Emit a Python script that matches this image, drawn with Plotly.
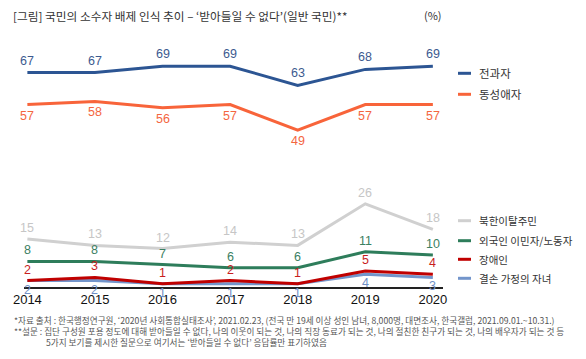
import plotly.graph_objects as go

years = [2014, 2015, 2016, 2017, 2018, 2019, 2020]
series_names = ["전과자", "동성애자", "북한이탈주민", "외국인 이민자/노동자", "장애인", "결손 가정의 자녀"]
ex_convict = [67, 67, 69, 69, 63, 68, 69]
homosexual = [57, 58, 56, 57, 49, 57, 57]
nk_defector = [15, 13, 12, 14, 13, 26, 18]
foreign_worker = [8, 8, 7, 6, 6, 11, 10]
disabled = [2, 3, 1, 2, 1, 5, 4]
broken_family = [2, 2, 1, 1, 1, 4, 3]

W, H = 586, 359
L, R, T, B = 23.6, 143, 47, 72
PW, PH = W - L - R, H - T - B

def px(x):
    return (x - L) / PW

def py(y):
    return (H - B - y) / PH

KFONT = "Noto Sans CJK KR"
NFONT = "Liberation Sans, Arial, sans-serif"

# (values, name, line colour, label colour, label shift in px)
styles = [
    (nk_defector, series_names[2], "#d0d0d0", "#c6c6c6", 11),
    (foreign_worker, series_names[3], "#2e7d5b", "#3b8062", 11),
    (broken_family, series_names[5], "#7395cb", "#6f8fc6", -9),
    (disabled, series_names[4], "#c00000", "#c81e1e", 11),
    (homosexual, series_names[1], "#f8643a", "#f4663f", -11),
    (ex_convict, series_names[0], "#2c5593", "#3d5a8f", 12),
]

fig = go.Figure()
annotations = []
for vals, name, lc, tc, shift in styles:
    fig.add_trace(go.Scatter(
        x=years, y=vals, name=name, mode="lines",
        line=dict(color=lc, width=3), cliponaxis=False, showlegend=False))
    for xv, yv in zip(years, vals):
        annotations.append(dict(x=xv, y=yv, xref="x", yref="y", text=str(yv),
                                showarrow=False, yshift=shift, xanchor="center", yanchor="middle",
                                font=dict(family=NFONT, size=12.5, color=tc)))

shapes = []
legend1 = [(series_names[0], "#2c5593", 73.3), (series_names[1], "#f8643a", 94.3)]
legend2 = [(series_names[2], "#d0d0d0", 220.7), (series_names[3], "#2e7d5b", 240.7),
           (series_names[4], "#c00000", 259.3), (series_names[5], "#7395cb", 278.3)]
for items, fs in ((legend1, 11.5), (legend2, 10.5)):
    for name, col, yy in items:
        shapes.append(dict(type="line", xref="paper", yref="paper",
                           x0=px(458), x1=px(471), y0=py(yy), y1=py(yy),
                           line=dict(color=col, width=3)))
        annotations.append(dict(xref="paper", yref="paper", x=px(477), y=py(yy),
                                text=name, showarrow=False, xanchor="left", yanchor="middle",
                                font=dict(family=KFONT, size=fs, color="#333333")))

annotations.append(dict(xref="paper", yref="paper", x=px(11), y=py(15),
                        text="[그림] 국민의 소수자 배제 인식 추이 – ‘받아들일 수 없다’(일반 국민)**",
                        showarrow=False, xanchor="left", yanchor="middle",
                        font=dict(family=KFONT, size=11.7, color="#333333")))
annotations.append(dict(xref="paper", yref="paper", x=px(444), y=py(15),
                        text="(%)", showarrow=False, xanchor="right", yanchor="middle",
                        font=dict(family=KFONT, size=11, color="#333333")))

foot = [
    (12, 320, "*자료 출처 : 한국행정연구원, ‘2020년 사회통합실태조사’, 2021.02.23, (전국 만 19세 이상 성인 남녀, 8,000명, 대면조사, 한국갤럽, 2021.09.01.~10.31.)"),
    (12, 331, "**설문 : 집단 구성원 포용 정도에 대해 받아들일 수 없다, 나의 이웃이 되는 것, 나의 직장 동료가 되는 것, 나의 절친한 친구가 되는 것, 나의 배우자가 되는 것 등"),
    (44, 342, "5가지 보기를 제시한 질문으로 여기서는 ‘받아들일 수 없다’ 응답률만 표기하였음"),
]
for xx, yy, t in foot:
    annotations.append(dict(xref="paper", yref="paper", x=px(xx), y=py(yy), text=t,
                            showarrow=False, xanchor="left", yanchor="middle",
                            font=dict(family=KFONT, size=8.65, color="#555555")))

fig.update_layout(
    width=W, height=H, margin=dict(l=L, r=R, t=T, b=B, pad=0),
    paper_bgcolor="white", plot_bgcolor="white",
    shapes=shapes, annotations=annotations, hovermode=False,
    xaxis=dict(range=[2013.95, 2020.15], tickvals=years, ticktext=[str(y) for y in years],
               showgrid=False, zeroline=False, showline=True, linecolor="#222222", linewidth=1.5,
               ticks="", tickfont=dict(family=NFONT, size=13, color="#111111"), fixedrange=True),
    yaxis=dict(range=[0, 75], visible=False, showgrid=False, zeroline=False, fixedrange=True),
)

fig.write_html("out.html", config={"displayModeBar": False},
               post_script="document.body.style.margin='0';document.body.style.overflow='hidden';")
